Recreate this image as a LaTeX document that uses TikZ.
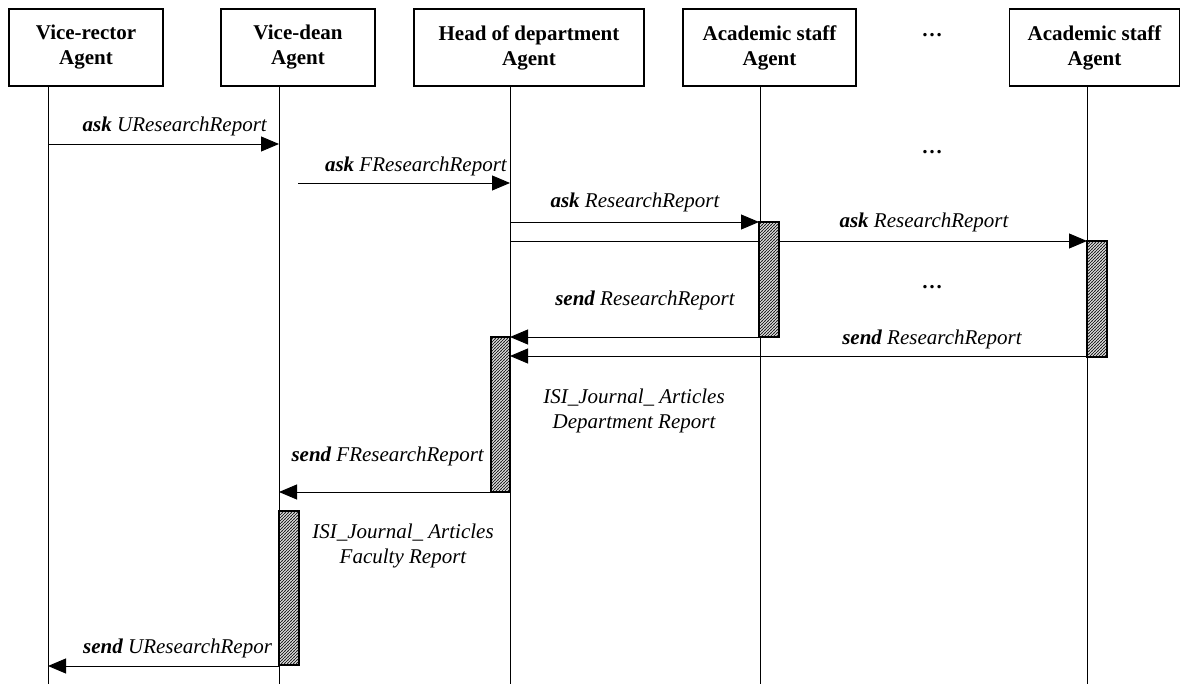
\documentclass[tikz,border=0pt]{standalone}
\usepackage{fontspec}
\setmainfont{Liberation Serif}
\usetikzlibrary{arrows.meta,patterns.meta}
\tikzdeclarepattern{
  name=densehatch,
  type=uncolored,
  bottom left={(-0.5pt,-0.5pt)},
  top right={(3.5pt,3.5pt)},
  tile size={(3pt,3pt)},
  code={\draw[line width=0.9pt] (-0.5pt,-0.5pt) -- (3.5pt,3.5pt);}
}
\begin{document}
\begin{tikzpicture}[x=1pt,y=-1pt,
  agent/.style={draw,line width=1.2pt,minimum width=#1,minimum height=77pt,inner sep=0pt,align=center,
    font=\fontsize{21}{25}\selectfont\bfseries},
  life/.style={line width=0.9pt},
  msg/.style={line width=0.9pt,-{Triangle[length=18pt,width=15pt]}},
  lbl/.style={font=\fontsize{21}{25}\selectfont\itshape,inner sep=0pt},
  dots/.style={font=\fontsize{21}{25}\selectfont\bfseries,inner sep=0pt,anchor=base},
  act/.style={draw,line width=1.1pt,preaction={fill=white},pattern=densehatch,pattern color=black!85},
]
\useasboundingbox (0,0) rectangle (1181,684);

% agents
\node[agent=154pt] (vr)  at (86,47.5)     {Vice-rector\\Agent};
\node[agent=154pt] (vd)  at (298,47.5)    {Vice-dean\\Agent};
\node[agent=230pt] (hd)  at (529,47.5)    {Head of department\\Agent};
\node[agent=173pt] (as1) at (769.5,47.5)  {Academic staff\\Agent};
\node[agent=170pt] (as2) at (1094.5,47.5) {Academic staff\\Agent};
\node[dots] (d0) at (932,36.5) {…};

% lifeline ends
\coordinate (vrB)  at (48,684);
\coordinate (vdB)  at (279,684);
\coordinate (hdB)  at (510,684);
\coordinate (as1B) at (760,684);
\coordinate (as2B) at (1087,684);
\draw[life] (vr.south -| vrB) -- (vrB);
\draw[life] (vd.south -| vdB) -- (vdB);
\draw[life] (hd.south -| hdB) -- (hdB);
\draw[life] (as1.south -| as1B) -- (as1B);
\draw[life] (as2.south -| as2B) -- (as2B);

% message end points
\coordinate (m1s) at (48,144);   \coordinate (m1e) at (279,144);
\coordinate (m2s) at (298,183);  \coordinate (m2e) at (510,183);
\coordinate (m3s) at (510,222);  \coordinate (m3e) at (759,222);
\coordinate (m4s) at (510,241);  \coordinate (m4e) at (1087,241);
\coordinate (m5s) at (759,337);  \coordinate (m5e) at (510,337);
\coordinate (m6s) at (1087,356); \coordinate (m6e) at (510,356);
\coordinate (m7s) at (491,492);  \coordinate (m7e) at (279,492);
\coordinate (m8s) at (279,666);  \coordinate (m8e) at (48,666);

\draw[msg] (m1s) -- (m1e);
\draw[msg] (m2s) -- (m2e);
\draw[msg] (m3s) -- (m3e);
\draw[msg] (m4s) -- (m4e);
\draw[msg] (m5s) -- (m5e);
\draw[msg] (m6s) -- (m6e);
\draw[msg] (m7s) -- (m7e);
\draw[msg] (m8s) -- (m8e);

% activation bars
\draw[act] (759,222) rectangle (779,337);
\draw[act] (1087,241) rectangle (1107,357);
\draw[act] (491,337) rectangle (510,492);
\draw[act] (279,511) rectangle (299,665);

% labels
\node[lbl,anchor=base east] (l1) at (267,132) {\textbf{ask} UResearchReport};
\node[lbl,anchor=base east] (l2) at (507,172) {\textbf{ask} FResearchReport};
\node[lbl,anchor=base] (l3) at (635,208) {\textbf{ask} ResearchReport};
\node[lbl,anchor=base] (l4) at (924,228) {\textbf{ask} ResearchReport};
\node[lbl,anchor=base] (l5) at (645,306) {\textbf{send} ResearchReport};
\node[lbl,anchor=base] (l6) at (932,345) {\textbf{send} ResearchReport};
\node[lbl,align=center] (l7) at (634,411) {ISI\_Journal\_ Articles\\Department Report};
\node[lbl,anchor=base east] (l8) at (484,461) {\textbf{send} FResearchReport};
\node[lbl,align=center] (l9) at (403,546) {ISI\_Journal\_ Articles\\Faculty Report};
\node[lbl,anchor=base west] (l10) at (83,653) {\textbf{send} UResearchRepor};

\node[dots] (d1) at (932,153.5) {…};
\node[dots] (d2) at (932,288.5) {…};
\end{tikzpicture}
\end{document}
